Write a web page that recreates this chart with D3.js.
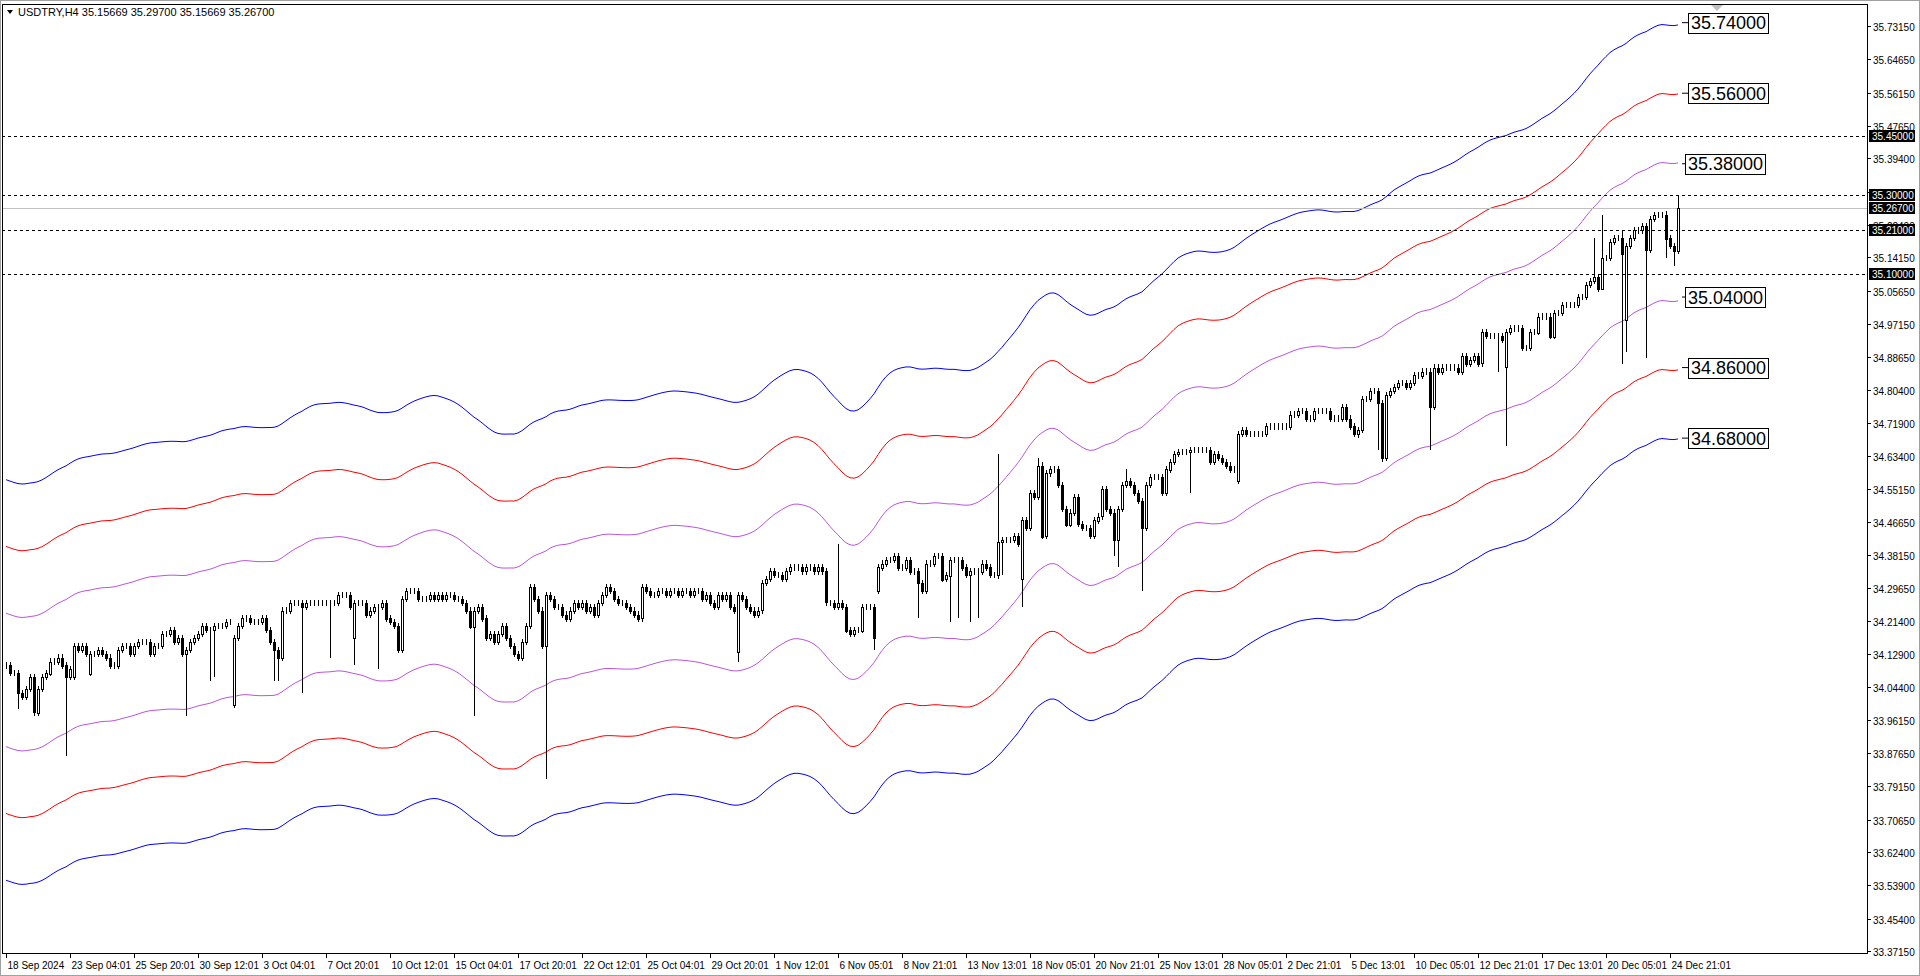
<!DOCTYPE html>
<html>
<head>
<meta charset="utf-8">
<script src="https://cdn.jsdelivr.net/npm/d3@7"></script>
<style>
  html, body { margin: 0; padding: 0; background: #fff; }
  svg { display: block; }
  text { font-family: "Liberation Sans", "DejaVu Sans", sans-serif; }
</style>
</head>
<body>
<svg id="chart" width="1920" height="976"></svg>
<script>
// USDTRY H4 closes, one per bar
var closes = [
  34.10,34.08,34.08,34.03,34.02,34.04,34.07,33.98,34.04,34.07,34.08,34.11,34.11,34.12,34.10,34.07,
  34.09,34.15,34.14,34.15,34.13,34.13,34.13,34.14,34.13,34.12,34.10,34.10,34.14,34.15,34.15,34.13,
  34.15,34.16,34.16,34.16,34.13,34.15,34.15,34.18,34.18,34.19,34.16,34.17,34.13,34.14,34.16,34.17,
  34.18,34.20,34.19,34.19,34.20,34.20,34.20,34.21,34.21,34.17,34.20,34.22,34.22,34.21,34.21,34.21,
  34.22,34.19,34.16,34.14,34.12,34.24,34.24,34.26,34.26,34.26,34.25,34.26,34.26,34.26,34.26,34.26,
  34.26,34.26,34.26,34.28,34.28,34.28,34.25,34.26,34.26,34.26,34.23,34.24,34.25,34.25,34.26,34.22,
  34.21,34.20,34.14,34.27,34.29,34.29,34.29,34.27,34.27,34.27,34.28,34.27,34.28,34.27,34.28,34.28,
  34.27,34.27,34.26,34.24,34.20,34.24,34.25,34.22,34.17,34.18,34.16,34.18,34.20,34.17,34.15,34.13,
  34.12,34.16,34.20,34.30,34.27,34.24,34.15,34.28,34.27,34.25,34.25,34.23,34.22,34.24,34.26,34.25,
  34.26,34.24,34.25,34.23,34.26,34.28,34.30,34.29,34.27,34.26,34.26,34.25,34.24,34.23,34.22,34.30,
  34.29,34.28,34.28,34.29,34.29,34.28,34.29,34.29,34.28,34.29,34.29,34.28,34.29,34.29,34.27,34.28,
  34.26,34.25,34.28,34.27,34.28,34.25,34.24,34.28,34.27,34.25,34.24,34.23,34.24,34.31,34.32,34.34,
  34.33,34.33,34.32,34.34,34.35,34.35,34.35,34.34,34.35,34.35,34.34,34.35,34.34,34.26,34.26,34.25,
  34.26,34.25,34.19,34.18,34.19,34.19,34.25,34.25,34.25,34.17,34.35,34.36,34.37,34.37,34.38,34.35,
  34.35,34.37,34.34,34.34,34.31,34.29,34.36,34.36,34.38,34.38,34.32,34.33,34.37,34.37,34.37,34.35,
  34.33,34.34,34.34,34.34,34.36,34.35,34.33,34.33,34.415,34.42,34.42,34.42,34.43,34.41,34.47,34.45,
  34.54,34.53,34.61,34.43,34.59,34.60,34.60,34.56,34.50,34.46,34.49,34.53,34.46,34.45,34.45,34.43,
  34.47,34.48,34.55,34.50,34.49,34.42,34.50,34.56,34.57,34.56,34.54,34.52,34.45,34.56,34.58,34.58,
  34.58,34.54,34.60,34.62,34.64,34.645,34.645,34.645,34.65,34.65,34.65,34.65,34.65,34.62,34.64,34.63,
  34.62,34.61,34.60,34.60,34.69,34.70,34.69,34.69,34.69,34.69,34.69,34.71,34.71,34.71,34.71,34.71,
  34.71,34.74,34.74,34.75,34.75,34.73,34.73,34.75,34.75,34.75,34.75,34.73,34.73,34.73,34.76,34.73,
  34.71,34.69,34.70,34.78,34.78,34.80,34.80,34.77,34.63,34.79,34.80,34.81,34.82,34.82,34.81,34.82,
  34.84,34.84,34.85,34.85,34.76,34.86,34.85,34.86,34.86,34.86,34.86,34.85,34.89,34.87,34.88,34.89,
  34.87,34.95,34.94,34.94,34.94,34.94,34.93,34.95,34.96,34.96,34.96,34.91,34.91,34.95,34.95,34.99,
  34.99,34.99,34.94,35.00,35.00,35.02,35.02,35.02,35.02,35.04,35.04,35.07,35.08,35.09,35.06,35.14,
  35.14,35.18,35.19,35.19,35.15,35.17,35.19,35.21,35.21,35.22,35.16,35.24,35.25,35.25,35.25,35.19,
  35.17,35.15669,35.267
];
// bars that open away from the previous close: [bar, open]
var gapOpens = [[17,34.07],[21,34.08],[57,34.00],[87,34.17],[135,34.15],[183,34.134],[218,34.29],
  [254,34.32],[308,34.57],[375,34.86],[405,34.98],[418,35.15669]];
// long lower wicks: [bar, low]
var lowWicks = [[3,33.99],[15,33.87],[45,33.97],[51,34.06],[52,34.07],[67,34.06],[68,34.06],[74,34.03],
  [81,34.12],[87,34.10],[93,34.09],[117,33.97],[135,33.81],[183,34.11],[217,34.14],[228,34.22],
  [236,34.21],[238,34.22],[241,34.21],[243,34.22],[248,34.32],[249,34.33],[254,34.25],[277,34.38],
  [278,34.35],[284,34.29],[296,34.54],[338,34.68],[343,34.65],[344,34.62],[356,34.65],[373,34.85],
  [375,34.66],[399,35.11],[404,34.87],[405,34.90],[410,34.885],[415,35.14],[417,35.12]];
// long upper wicks: [bar, high]
var highWicks = [[208,34.41],[248,34.64],[258,34.63],[280,34.60],[397,35.19],[399,35.25],[404,35.21],
  [415,35.26],[418,35.297]];

var priceTicks = ["35.73150","35.64650","35.56150","35.47650","35.39400","35.30900","35.22400","35.14150",
  "35.05650","34.97150","34.88650","34.80400","34.71900","34.63400","34.55150","34.46650","34.38150",
  "34.29650","34.21400","34.12900","34.04400","33.96150","33.87650","33.79150","33.70650","33.62400",
  "33.53900","33.45400","33.37150"];
var timeLabels = ["18 Sep 2024","23 Sep 04:01","25 Sep 20:01","30 Sep 12:01","3 Oct 04:01","7 Oct 20:01",
  "10 Oct 12:01","15 Oct 04:01","17 Oct 20:01","22 Oct 12:01","25 Oct 04:01","29 Oct 20:01","1 Nov 12:01",
  "6 Nov 05:01","8 Nov 21:01","13 Nov 13:01","18 Nov 05:01","20 Nov 21:01","25 Nov 13:01","28 Nov 05:01",
  "2 Dec 21:01","5 Dec 13:01","10 Dec 05:01","12 Dec 21:01","17 Dec 13:01","20 Dec 05:01","24 Dec 21:01"];
var levels = [35.45, 35.30, 35.21, 35.10];
var bidPrice = 35.267;
var envPct = [0.015, 0.010, 0.005];
var envColors = ["#0000ff", "#ff0000", "#bb55dd"];
var envLabels = ["35.74000","35.56000","35.38000","35.04000","34.86000","34.68000"];
var LABEL_EVERY = 16;
var HALF = 8;

var W = 1920, H = 976;
var plotL = 2, plotR = 1867, plotT = 4, plotB = 953;
var svg = d3.select("#chart");

var x = d3.scaleLinear().domain([0, 1]).range([6, 10]);
var y = d3.scaleLinear().domain([33.3715, 35.7315]).range([951, 26]);

// build bars
var openMap = new Map(gapOpens), lowMap = new Map(lowWicks), highMap = new Map(highWicks);
var bars = closes.map(function(c, i) {
  var o = openMap.has(i) ? openMap.get(i) : (i > 0 ? closes[i - 1] : c);
  var hi = highMap.has(i) ? highMap.get(i) : Math.max(o, c) + 0.008;
  var lo = lowMap.has(i) ? lowMap.get(i) : Math.min(o, c) - 0.008;
  return {i: i, o: o, h: hi, l: lo, c: c};
});

// centred triangular moving average of typical price, used as the envelope base
var typ = bars.map(function(b) { return (b.h + b.l + b.c) / 3; });
var base = typ.map(function(c, i) {
  var s = 0, w = 0;
  for (var k = -HALF; k <= HALF; k++) {
    var j = i + k;
    if (j < 0 || j >= typ.length) continue;
    var wt = HALF + 1 - Math.abs(k);
    s += typ[j] * wt; w += wt;
  }
  return s / w;
});

svg.append("rect").attr("x", 0.5).attr("y", 0.5).attr("width", W - 1).attr("height", H - 1)
  .attr("fill", "#fff").attr("stroke", "#a0a0a0");
svg.append("rect").attr("x", plotL + 0.5).attr("y", plotT + 0.5)
  .attr("width", plotR - plotL).attr("height", plotB - plotT)
  .attr("fill", "none").attr("stroke", "#000");

svg.append("defs").append("clipPath").attr("id", "plot")
  .append("rect").attr("x", plotL + 1).attr("y", plotT + 1)
  .attr("width", plotR - plotL - 1).attr("height", plotB - plotT - 1);
var g = svg.append("g").attr("clip-path", "url(#plot)");

// envelopes
var line = d3.line().x(function(d) { return x(d.i); }).y(function(d) { return y(d.v); });
envPct.forEach(function(p, k) {
  [1, -1].forEach(function(sgn) {
    var pts = base.map(function(b, i) { return {i: i, v: b * (1 + sgn * p)}; });
    g.append("path").attr("d", line(pts)).attr("fill", "none")
      .attr("stroke", envColors[k]).attr("stroke-width", 1);
  });
});

// bid line and horizontal levels
g.append("line").attr("x1", plotL).attr("x2", plotR)
  .attr("y1", Math.round(y(bidPrice)) + 0.5).attr("y2", Math.round(y(bidPrice)) + 0.5)
  .attr("stroke", "#c0c0c0");
g.selectAll(".lvl").data(levels).enter().append("line")
  .attr("x1", plotL).attr("x2", plotR)
  .attr("y1", function(d) { return Math.round(y(d)) + 0.5; })
  .attr("y2", function(d) { return Math.round(y(d)) + 0.5; })
  .attr("stroke", "#000").attr("stroke-dasharray", "3,3");

// candles
var cg = g.append("g").attr("shape-rendering", "crispEdges");
cg.selectAll(".wick").data(bars).enter().append("line")
  .attr("x1", function(d) { return Math.round(x(d.i)) + 0.5; })
  .attr("x2", function(d) { return Math.round(x(d.i)) + 0.5; })
  .attr("y1", function(d) { return y(d.h); })
  .attr("y2", function(d) { return y(d.l); })
  .attr("stroke", "#000");
cg.selectAll(".body").data(bars).enter().append("rect")
  .attr("x", function(d) { return Math.round(x(d.i)) - 0.5; })
  .attr("width", 2)
  .attr("y", function(d) { return Math.round(y(Math.max(d.o, d.c))) + 0.5; })
  .attr("height", function(d) { return Math.max(0, Math.round(y(Math.min(d.o, d.c)) - y(Math.max(d.o, d.c)))); })
  .attr("fill", function(d) { return d.c >= d.o ? "#fff" : "#000"; })
  .attr("stroke", "#000");

// envelope end labels
var last = closes.length - 1;
var labG = svg.append("g");
envLabels.forEach(function(t, k) {
  var yy = y(+t);
  var bx = (k === 2 || k === 3) ? 1685 : 1688;
  labG.append("line").attr("x1", x(last) + 4).attr("x2", bx).attr("y1", yy).attr("y2", yy).attr("stroke", "#000");
  var txt = labG.append("text").attr("x", bx + 3).attr("y", yy + 6.5).attr("font-size", 18).text(t);
  var bb = txt.node().getBBox();
  labG.insert("rect", "text").attr("x", bx + 0.5).attr("y", Math.round(yy - 10) + 0.5)
    .attr("width", Math.round(bb.width + 5)).attr("height", 20)
    .attr("fill", "#fff").attr("stroke", "#000");
});
svg.append("path").attr("d", "M1711,5 L1723,5 L1717,11 Z").attr("fill", "#c0c0c0");

// price axis
var ax = svg.append("g").attr("font-size", 10);
priceTicks.forEach(function(t) {
  var yy = Math.round(y(+t)) + 0.5;
  ax.append("line").attr("x1", plotR).attr("x2", plotR + 4).attr("y1", yy).attr("y2", yy).attr("stroke", "#000");
  ax.append("text").attr("x", plotR + 6).attr("y", yy + 4).attr("fill", "#000").text(t);
});
levels.concat([bidPrice]).forEach(function(v) {
  var yy = Math.round(y(v));
  ax.append("rect").attr("x", plotR + 2).attr("y", yy - 6).attr("width", 46).attr("height", 12).attr("fill", "#000");
  ax.append("text").attr("x", plotR + 5).attr("y", yy + 4).attr("fill", "#fff").text(v.toFixed(5));
});

// time axis
var tx = svg.append("g").attr("font-size", 10);
timeLabels.forEach(function(t, k) {
  var xx = Math.round(x(k * LABEL_EVERY)) + 0.5;
  tx.append("line").attr("x1", xx).attr("x2", xx).attr("y1", plotB).attr("y2", plotB + 5).attr("stroke", "#000");
  tx.append("text").attr("x", xx + 1).attr("y", plotB + 16).text(t);
});

// header
svg.append("path").attr("d", "M7,10 L13,10 L10,14 Z").attr("fill", "#000");
svg.append("text").attr("x", 18).attr("y", 16).attr("font-size", 11)
  .text("USDTRY,H4  35.15669 35.29700 35.15669 35.26700");
</script>
</body>
</html>
